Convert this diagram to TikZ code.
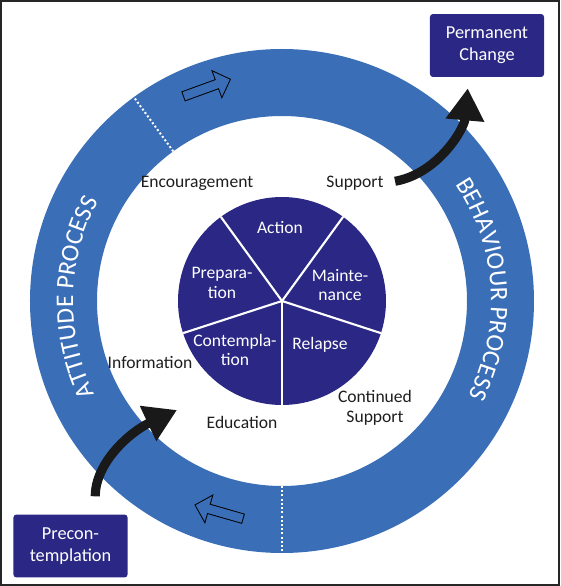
\documentclass[tikz,border=0pt]{standalone}
\usepackage{fontspec}
\setmainfont{Carlito}
\usetikzlibrary{arrows.meta,shapes.arrows,decorations.text}
\definecolor{ringblue}{RGB}{58,111,184}
\definecolor{navy}{RGB}{42,40,132}
\definecolor{labelgray}{RGB}{30,30,30}

\begin{document}
\begin{tikzpicture}[x=0.025cm, y=0.025cm]
    % Ring radii
    \newcommand{\outerrad}{252}
    \newcommand{\innerrad}{185}
    % Baseline of the ring text
    \newcommand{\textrad}{209}
    % Pie radius
    \newcommand{\pierad}{104}
    % Styles
    \tikzstyle{stage}=[text=white, align=center, inner sep=0,
      font=\fontsize{12.5}{14}\selectfont]
    \tikzstyle{factor}=[text=labelgray, align=center, inner sep=1pt,
      font=\fontsize{12.5}{14}\selectfont]
    \tikzstyle{endbox}=[rectangle, rounded corners=2pt, fill=navy, text=white,
      align=center, minimum width=2.85cm, minimum height=1.57cm,
      font=\fontsize{13}{15.5}\selectfont]
    \tikzstyle{hollow}=[single arrow, draw=black, line width=0.6pt, fill=ringblue,
      minimum height=1.25cm, minimum width=0.7cm, inner sep=0.11cm,
      single arrow head extend=0.24cm]
    \tikzstyle{bigarrow}=[line width=6.5pt, draw=black!90,
      -{Triangle[width=0.92cm, length=0.8cm]}]
    \tikzstyle{dotline}=[white, line width=1.4pt, dash pattern=on 1.4pt off 1.6pt]

    % Frame
    \useasboundingbox (-282,-285) rectangle (278,301);
    \draw[line width=1.4pt, black!85] (-281,-284) rectangle (277,300);

    % Ring
    \fill[ringblue, even odd rule] (0,0) circle (\outerrad) (0,0) circle (\innerrad);
    % Dotted borders between the two processes
    \foreach \a in {126,270}
      {
        \draw[dotline] (\a:\innerrad) -- (\a:\outerrad);
      }
    % Direction arrows
    \node[hollow, rotate=20] (upper) at (110:226) {};
    \node[hollow, rotate=164] (lower) at (254:220) {};

    % Ring text
    \path[decorate, decoration={text along path, text color=white, text align=center,
        text={|\fontsize{18}{18}\selectfont|ATTITUDE PROCESS}}]
      (208:\textrad) arc (208:150:\textrad);
    \path[decorate, decoration={text along path, text color=white, text align=center,
        text={|\fontsize{18}{18}\selectfont|BEHAVIOUR PROCESS}}]
      (38:\textrad) arc (38:-31:\textrad);

    % Pie
    \fill[navy] (0,0) circle (\pierad);
    \foreach \a in {54,126,198,270,342}
      {
        \draw[white, line width=1.5pt] (0,0) -- (\a:\pierad);
      }
    % Stages
    \foreach \x/\y/\nm/\txt in {-2/74/action/Action, -60/18/prep/{Prepara-\\tion},
        58/16/maint/{Mainte-\\nance}, -47/-49/contemp/{Contempla-\\tion},
        38/-44/relapse/Relapse}
      {
        \node[stage] (\nm) at (\x,\y) {\txt};
      }

    % Factors
    \node[factor] (encour) at (-85,118) {Encouragement};
    \node[factor] (support) at (73,118) {Support};
    \node[factor] (info) at (-132,-61) {Information};
    \node[factor] (edu) at (-40,-121) {Education};
    \node[factor] (contsup) at (93,-107) {Continued\\Support};

    % End boxes
    \node[endbox] (perm) at (205,255.5) {Permanent\\Change};
    \node[endbox] (precon) at (-211.5,-245) {Precon-\\templation};

    % Black arrows
    \coordinate (entry) at (-105,-109);
    \draw[bigarrow, shorten <=0.45cm] (precon.52) to[out=90, in=205] (entry);
    \draw[bigarrow, shorten <=0.25cm, shorten >=0.28cm]
      (support.east) to[out=10, in=-95] (perm.240);
  \end{tikzpicture}
\end{document}
